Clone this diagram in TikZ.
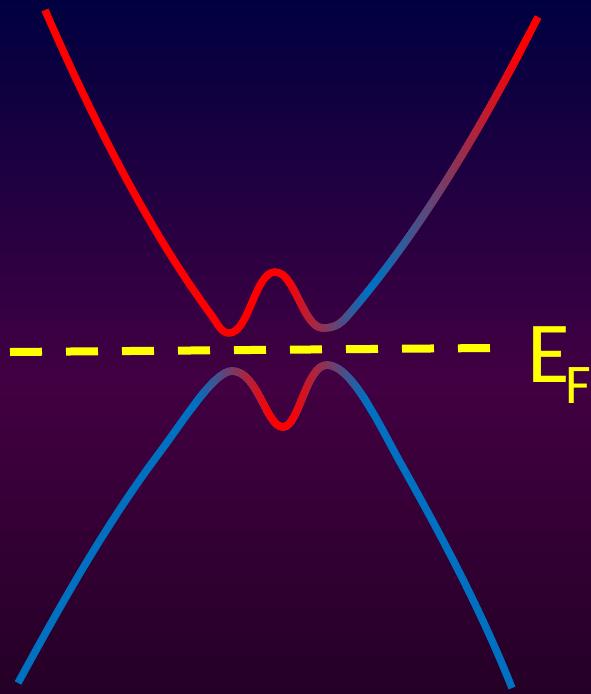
\documentclass[tikz,border=0pt]{standalone}
\usepackage{fontspec}
\setmainfont{Carlito}
\definecolor{bgtop}{RGB}{0,0,64}
\definecolor{bgmid}{RGB}{66,0,66}
\definecolor{bgbot}{RGB}{36,0,38}
\definecolor{bandred}{RGB}{255,0,0}
\definecolor{bandblue}{RGB}{0,112,192}
\definecolor{efyellow}{RGB}{255,255,0}
\tikzset{
  bandline/.style={line width=7.5pt},
  fermiline/.style={line width=8pt, efyellow, dash pattern=on 32pt off 24pt},
  eflabel/.style={text=efyellow, inner sep=0pt, anchor=base west}
}
\newcommand{\upperband}{(45,10) .. controls (89,111) and (146,227) .. (212,316)
  .. controls (216.8,322.5) and (221,333) .. (229,333)
  .. controls (249,333) and (255,272) .. (275,272)
  .. controls (295,272) and (303,328) .. (323,328)
  .. controls (337,328) and (342.2,322.1) .. (350,313)
  .. controls (424.8,225.6) and (486,119) .. (538,17)}
\newcommand{\lowerband}{(18,683) .. controls (61.2,603.8) and (106,524) .. (160,452)
  .. controls (184,420) and (214,371) .. (232,371)
  .. controls (258,371) and (266,427) .. (283,427)
  .. controls (299,427) and (306,365) .. (327,365)
  .. controls (352,365) and (380.4,427.2) .. (400,462)
  .. controls (441,535) and (481,610) .. (512,688)}
\begin{document}
\begin{tikzpicture}[x=1pt,y=-1pt]
\useasboundingbox (0,0) rectangle (591,694);
\clip (0,0) rectangle (591,694);
\shade[top color=bgtop, bottom color=bgmid] (0,0) rectangle (591,381);
\shade[top color=bgmid, bottom color=bgbot] (0,380) rectangle (591,694);
% Fermi level
\coordinate (fl) at (10,352);
\coordinate (fr) at (490,348);
\draw[fermiline] (fl) -- (fr);
% bands
\draw[bandline, bandred] \upperband;
\draw[bandline, bandblue] \lowerband;
\foreach \x in {284,286,...,522} {
  \pgfmathsetmacro\pr{100*(max(0,min(1,(365-\x)/80))+max(0,min(1,(\x-375)/145)))}
  \begin{scope}
    \clip (\x,0) rectangle (\x+3,694);
    \draw[bandline, color=bandred!\pr!bandblue] \upperband;
  \end{scope}
}
\foreach \x in {193,195,...,367} {
  \pgfmathsetmacro\pr{100*(max(0,min(1,(\x-195)/75))-max(0,min(1,(\x-290)/75)))}
  \begin{scope}
    \clip (\x,0) rectangle (\x+3,694);
    \draw[bandline, color=bandred!\pr!bandblue] \lowerband;
  \end{scope}
}
% label
\node[eflabel, font=\fontsize{87}{90}\selectfont] (ef) at (527,382)
  {E\kern-4.5pt\raisebox{-21pt}{\fontsize{56}{60}\selectfont F}};
\end{tikzpicture}
\end{document}
